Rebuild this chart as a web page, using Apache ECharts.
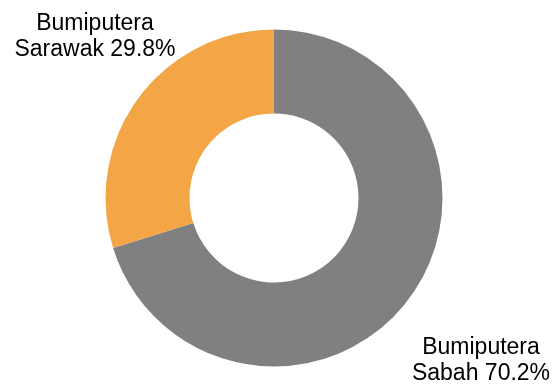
<!DOCTYPE html>
<html>
<head>
<meta charset="utf-8">
<script src="https://cdn.jsdelivr.net/npm/echarts@6/dist/echarts.min.js"></script>
<style>
  html, body { margin: 0; padding: 0; background: #fff; }
  #chart { width: 558px; height: 385px; }
</style>
</head>
<body>
<div id="chart"></div>
<script>
// data
var groups = ['Bumiputera Sabah', 'Bumiputera Sarawak']
var shares = [70.2, 29.8]
var colors = ['#808080', '#F4A647']

// where each label sits (centre of the text block)
var labelSpots = [
  { x: 481, y: 361 },
  { x: 95, y: 37 }
]

var chart = echarts.init(document.getElementById('chart'))

chart.setOption({
  animation: false,
  series: [{
    type: 'pie',
    center: [274, 198],
    radius: [84.5, 168.5],
    startAngle: 90,
    clockwise: true,
    avoidLabelOverlap: false,
    data: groups.map(function(g, i) {
      return { name: g, value: shares[i], itemStyle: { color: colors[i] } }
    }),
    label: {
      show: true,
      position: 'outside',
      overflow: 'none',
      edgeDistance: 0,
      fontFamily: 'Liberation Sans, Arial, sans-serif',
      fontSize: 23,
      lineHeight: 26,
      color: '#000',
      align: 'center',
      formatter: function(p) {
        return p.name.replace(' ', '\n') + ' ' + p.value.toFixed(1) + '%'
      }
    },
    labelLine: { show: false },
    labelLayout: function(params) {
      var spot = labelSpots[params.dataIndex]
      return {
        x: spot.x,
        y: spot.y,
        align: 'center',
        verticalAlign: 'middle'
      }
    },
    emphasis: { disabled: true }
  }]
})
</script>
</body>
</html>
